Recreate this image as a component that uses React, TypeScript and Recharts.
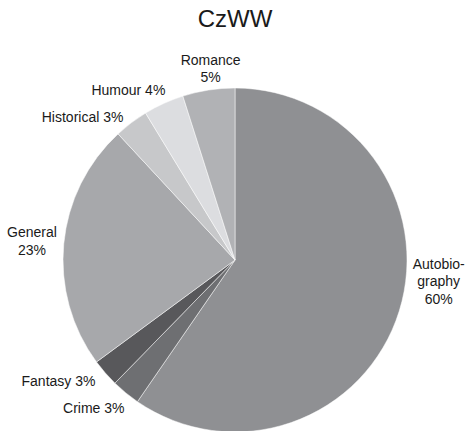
import React from 'react';
import { PieChart, Pie, Cell } from 'recharts';

const categories = ['Autobiography', 'Crime', 'Fantasy', 'General', 'Historical', 'Humour', 'Romance'];
const labelNames = ['Autobio-\ngraphy', 'Crime', 'Fantasy', 'General', 'Historical', 'Humour', 'Romance'];
const percentOnNewLine = [true, false, false, true, false, false, true];
const shares = [59.6, 2.7, 2.6, 23.2, 3.2, 3.8, 4.9];
const colors = ['#8f9093', '#6e6f72', '#58585b', '#a7a8ab', '#c7c8ca', '#dcdde0', '#b1b2b5'];

const FAMILY = "'Liberation Sans', Arial, sans-serif";
const SIZE = 14;
const LINE_H = 17.5;
const RAD = Math.PI / 180;

let ctx: CanvasRenderingContext2D | null = null;
function textWidth(s: string): number {
  if (!ctx) ctx = document.createElement('canvas').getContext('2d');
  if (!ctx) return s.length * 7;
  ctx.font = `${SIZE}px ${FAMILY}`;
  return ctx.measureText(s).width;
}

// small hand nudges so labels land where the original placed them
const labelNudge: Record<string, [number, number]> = {
  Autobiography: [1, -39],
  General: [6, -1],
  Crime: [7, 5],
  Humour: [7, -2],
  Historical: [0, 5],
  Romance: [4, 0],
};

const data = categories.map((name, i) => ({ name, value: shares[i], idx: i }));

const renderLabel = (props: any) => {
  const { cx, cy, midAngle, outerRadius, percent, payload } = props;
  const i = payload.idx;
  const pct = `${Math.round(percent * 100)}%`;
  const lines = labelNames[i].split('\n');
  if (percentOnNewLine[i]) lines.push(pct);
  else lines[lines.length - 1] += ' ' + pct;

  const [nx, ny] = labelNudge[categories[i]] || [0, 0];
  const r = outerRadius + 13;
  const cos = Math.cos(-midAngle * RAD);
  const sin = Math.sin(midAngle * RAD);
  const px = cx + r * cos + nx;
  const py = cy - r * sin + ny;

  const w = Math.max(...lines.map(textWidth));
  let centerX = px;
  if (cos > 0.2) centerX = px + w / 2;
  else if (cos < -0.2) centerX = px - w / 2;
  const centerY = py - (sin * (lines.length - 1) * LINE_H) / 2;
  const firstY = centerY - ((lines.length - 1) * LINE_H) / 2;

  return (
    <text
      x={centerX}
      y={firstY}
      textAnchor="middle"
      dominantBaseline="central"
      fill="#1a1a1a"
      fontFamily={FAMILY}
      fontSize={SIZE}
    >
      {lines.map((l, k) => (
        <tspan key={k} x={centerX} y={firstY + k * LINE_H}>
          {l}
        </tspan>
      ))}
    </text>
  );
};

export default function App() {
  return (
    <div style={{ position: 'absolute', left: 0, top: 0, width: 469, height: 431, background: '#fff' }}>
      <PieChart width={469} height={431} margin={{ top: 0, right: 0, bottom: 0, left: 0 }}>
        <text x={235} y={27} textAnchor="middle" fill="#1a1a1a" fontFamily={FAMILY} fontSize={24}>
          CzWW
        </text>
        <Pie
          data={data}
          dataKey="value"
          nameKey="name"
          cx={235}
          cy={260}
          outerRadius={172}
          startAngle={90}
          endAngle={-270}
          stroke="#ffffff"
          strokeWidth={0.5}
          label={renderLabel}
          labelLine={false}
          isAnimationActive={false}
        >
          {data.map((d, i) => (
            <Cell key={d.name} fill={colors[i]} />
          ))}
        </Pie>
      </PieChart>
    </div>
  );
}
